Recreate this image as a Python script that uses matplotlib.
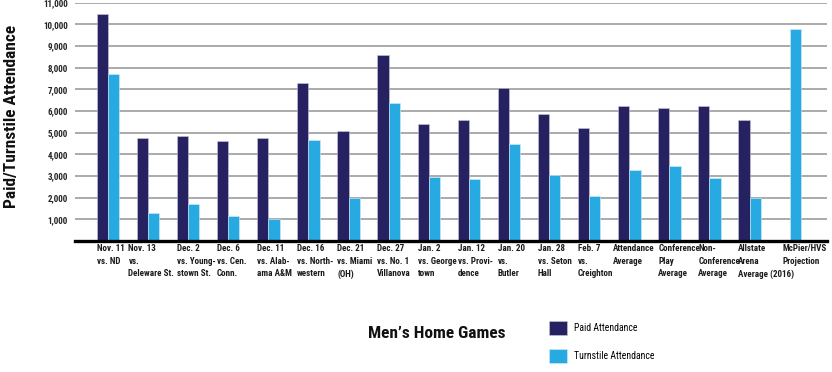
import numpy as np
import matplotlib
matplotlib.use("Agg")
import matplotlib.pyplot as plt
import matplotlib.transforms as mtransforms
from matplotlib import font_manager

# Data
games = [
    "Nov. 11\nvs. ND",
    "Nov. 13\nvs.\nDeleware St.",
    "Dec. 2\nvs. Young-\nstown St.",
    "Dec. 6\nvs. Cen.\nConn.",
    "Dec. 11\nvs. Alab-\nama A&M",
    "Dec. 16\nvs. North-\nwestern",
    "Dec. 21\nvs. Miami\n(OH)",
    "Dec. 27\nvs. No. 1\nVillanova",
    "Jan. 2\nvs. George\ntown",
    "Jan. 12\nvs. Provi-\ndence",
    "Jan. 20\nvs.\nButler",
    "Jan. 28\nvs. Seton\nHall",
    "Feb. 7\nvs.\nCreighton",
    "Attendance\nAverage",
    "Conference\nPlay\nAverage",
    "Non-\nConference\nAverage",
    "Allstate\nArena\nAverage (2016)",
    "McPier/HVS\nProjection",
]
paid = [10470, 4760, 4860, 4630, 4760, 7290, 5060, 8590, 5400, 5590,
        7060, 5860, 5220, 6230, 6140, 6230, 5590, np.nan]
turnstile = [7690, 1310, 1720, 1140, 1000, 4680, 2000, 6370, 2950, 2850,
             4480, 3040, 2100, 3290, 3450, 2900, 2000, 9770]
yticks = list(range(1000, 12000, 1000))

PAID_COLOR = "#262262"
TURN_COLOR = "#27aae1"

# condensed gothic look: take the first narrow family that is installed
names = {f.name for f in font_manager.fontManager.ttflist}
FONT = "Liberation Sans"
for cand in ["Roboto Condensed", "Archivo Narrow", "Barlow Condensed",
             "Asap Condensed", "Liberation Sans Narrow"]:
    if cand in names:
        FONT = cand
        break
plt.rcParams["font.family"] = [FONT, "DejaVu Sans"]

fig = plt.figure(figsize=(8.32, 3.72), dpi=100)
ax = fig.add_axes([75 / 832, 1 - 241 / 372, (827 - 75) / 832, (241 - 2.7) / 372])

x = np.arange(len(games))
w = 0.28
ax.bar(x - w / 2, paid, w, color=PAID_COLOR, edgecolor="#c8c8dc",
       linewidth=0.4, label="Paid Attendance", zorder=3)
ax.bar(x + w / 2, turnstile, w, color=TURN_COLOR, edgecolor="#d8eef8",
       linewidth=0.4, label="Turnstile Attendance", zorder=3)

ax.set_xlim(-0.82, 17.93)
ax.set_ylim(0, 11000)
ax.set_yticks(yticks)
ax.set_yticklabels([f"{v:,}" for v in yticks], fontsize=6.5, fontweight="bold",
                   color="#222222")
ax.yaxis.grid(True, color="#a4a4a4", linewidth=1.3, zorder=0)
ax.tick_params(axis="y", length=0, pad=5)

ax.set_xticks(x - w)
ax.set_xticklabels(games, fontsize=6.5, fontweight="bold", ha="left",
                   color="#1a1a1a")
ax.tick_params(axis="x", length=0, pad=2.5)
# a few labels sit a little off the bar edge in the original (points)
nudge = {1: -6, 13: -4, 17: 3}
for i, lab in enumerate(ax.get_xticklabels()):
    lab.set_linespacing(1.5)
    if i in nudge:
        lab.set_transform(lab.get_transform() + mtransforms.ScaledTranslation(
            nudge[i] / 72, 0, fig.dpi_scale_trans))

for side in ["top", "right", "left"]:
    ax.spines[side].set_visible(False)
ax.spines["bottom"].set_linewidth(2.4)
ax.spines["bottom"].set_color("black")
ax.spines["bottom"].set_zorder(5)

fig.text(12 / 832, 1 - 116 / 372, "Paid/Turnstile Attendance", rotation=90,
         ha="center", va="center", fontsize=12.5, fontweight="bold",
         color="#111111")
fig.text(368 / 832, 1 - 333 / 372, "Men\u2019s Home Games", ha="left",
         va="center", fontsize=12.5, fontweight="bold", color="#111111")

fig.legend(loc="upper left", bbox_to_anchor=(549 / 832, 1 - 321 / 372),
           frameon=False, handlelength=1.8, handleheight=1.8,
           labelspacing=1.5, handletextpad=0.8, borderpad=0, borderaxespad=0,
           prop={"size": 7})

fig.savefig("out.png", dpi=100)
